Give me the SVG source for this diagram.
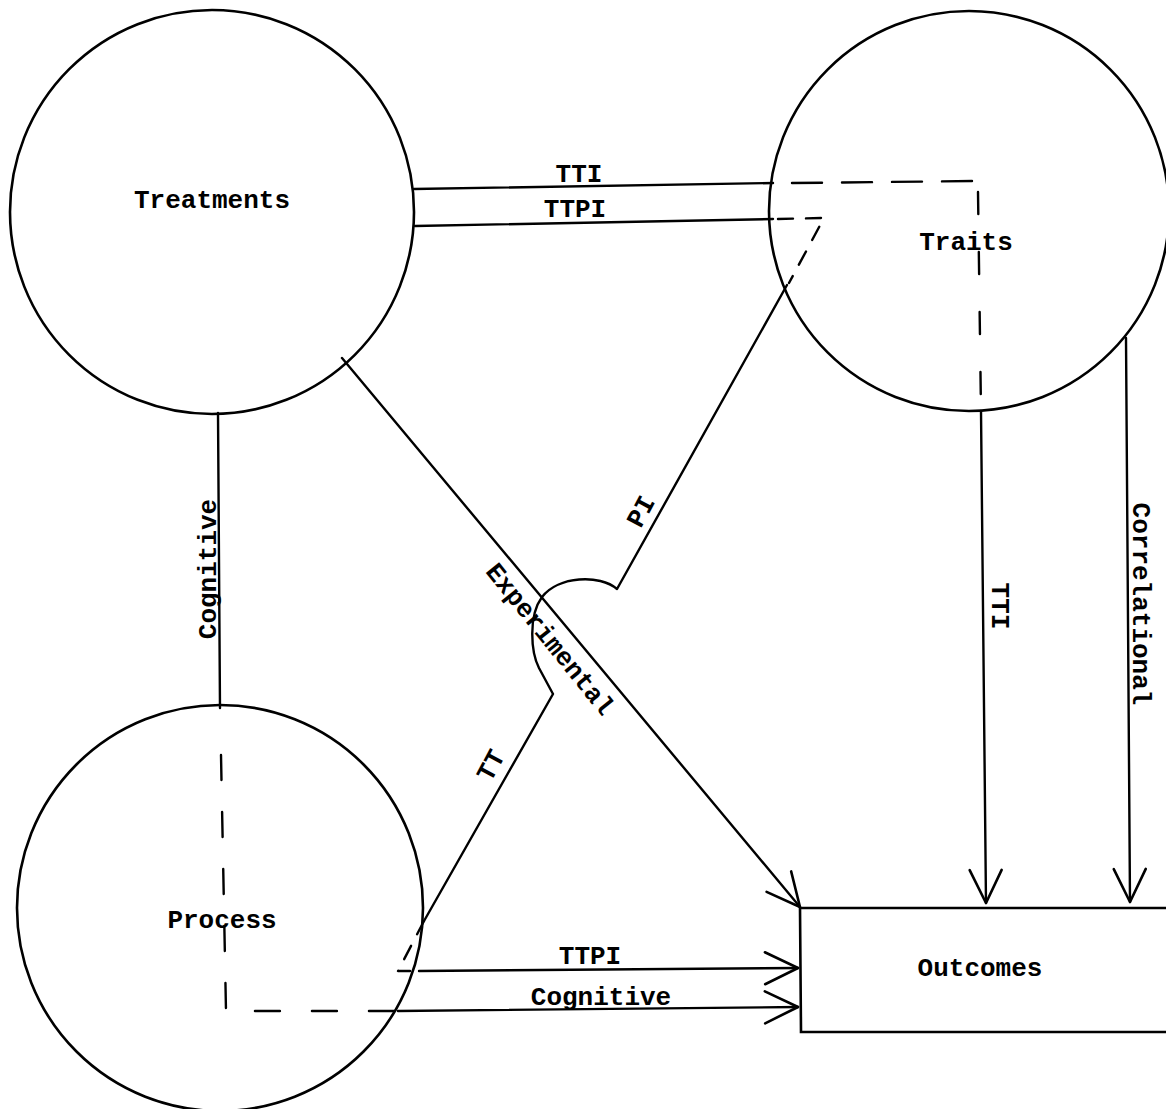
<svg xmlns="http://www.w3.org/2000/svg" width="1166" height="1109" viewBox="0 0 1166 1109">
<style>
.node{fill:none;stroke:#000;stroke-width:2.6}
.ln{fill:none;stroke:#000;stroke-width:2.4;stroke-linecap:round;stroke-linejoin:round}
.d1{stroke-dasharray:30 20}
.d2{stroke-dasharray:22 38}
.d3{stroke-dasharray:15 13}
.d4{stroke-dasharray:25 32}
text{font-family:"Liberation Mono","DejaVu Sans Mono",monospace;font-size:26px;font-weight:bold;fill:#000;text-anchor:middle}
</style>
<defs>
<marker id="arr" markerUnits="userSpaceOnUse" markerWidth="40" markerHeight="40" viewBox="-36 -20 40 40" refX="0" refY="0" orient="auto">
<path d="M-33,-16 L0,0 L-33,16" fill="none" stroke="#000" stroke-width="2.6" stroke-linecap="round" stroke-linejoin="round"/>
</marker>
</defs>
<rect width="1166" height="1109" fill="#fff"/>
<g id="treatments">
<circle class="node" cx="212" cy="212" r="202"/>
<text x="212" y="208">Treatments</text>
</g>
<g id="traits">
<circle class="node" cx="969" cy="211" r="200"/>
<text x="966" y="250">Traits</text>
</g>
<g id="process">
<circle class="node" cx="220" cy="908" r="203"/>
<text x="222" y="928">Process</text>
</g>
<g id="outcomes">
<path class="node" d="M1172,908 L800,908 L801,1032 L1172,1032"/>
<text x="980" y="976">Outcomes</text>
</g>
<g id="connectors">
<path class="ln" d="M414,189 L773,183"/>
<path class="ln" d="M415,226 L773,219"/>
<path class="ln d1" d="M792,183 L978,181"/>
<path class="ln d2" d="M978,192 L981,411"/>
<path class="ln" d="M981,411 L986,903" marker-end="url(#arr)"/>
<path class="ln d3" d="M778,219 L824,218 L789,283"/>
<path class="ln" d="M1126,338 L1130,902" marker-end="url(#arr)"/>
<path class="ln" d="M342,358 L800,907" marker-end="url(#arr)"/>
<path class="ln" d="M787,285 L617,589 C600,574 558,576 542,597 C528,616 531,652 539,668 L553,694 L424,921"/>
<path class="ln d3" d="M424,921 L398,971 L410,971"/>
<path class="ln" d="M419,971 L798,968" marker-end="url(#arr)"/>
<path class="ln" d="M218,413 L220,708"/>
<path class="ln d4" d="M221,755 L226,1011 L398,1011"/>
<path class="ln" d="M398,1011 L798,1007" marker-end="url(#arr)"/>
<text x="579" y="182">TTI</text>
<text x="575" y="217">TTPI</text>
<text x="590" y="964">TTPI</text>
<text x="601" y="1005">Cognitive</text>
<text transform="translate(216,569) rotate(-90)">Cognitive</text>
<text transform="translate(1133,604) rotate(90)">Correlational</text>
<text transform="translate(992,606) rotate(90)">TTI</text>
<text transform="translate(549,640) rotate(51)" dominant-baseline="central">Experimental</text>
<text transform="translate(642,512) rotate(-62)" dominant-baseline="central">PI</text>
<text transform="translate(492,766) rotate(-62)" dominant-baseline="central">TT</text>
</g>
</svg>
